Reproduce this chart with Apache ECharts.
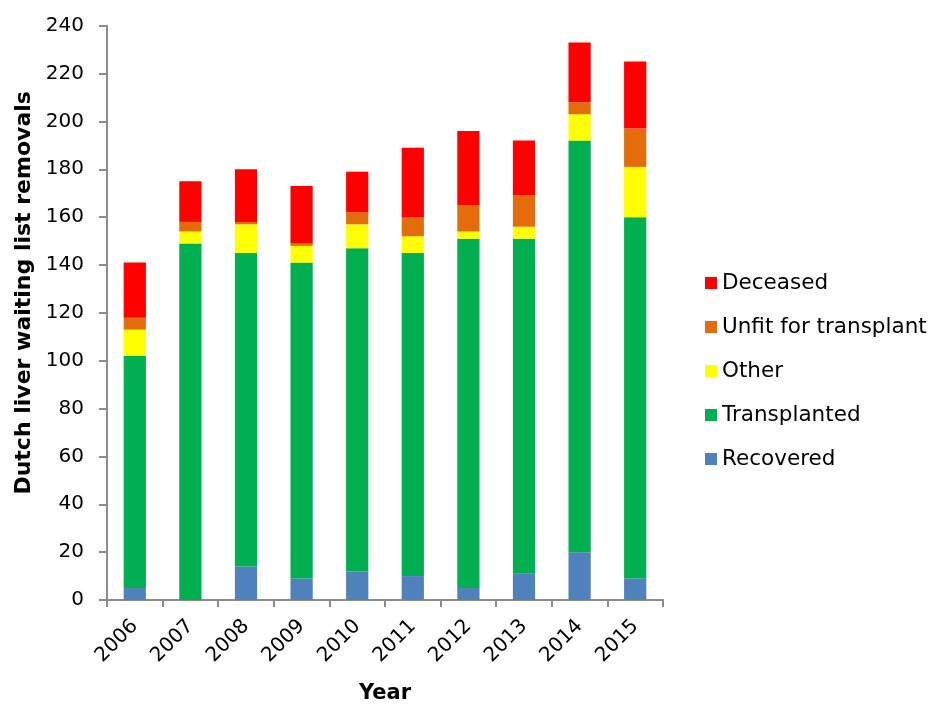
<!DOCTYPE html>
<html>
<head>
<meta charset="utf-8">
<script src="https://cdn.jsdelivr.net/npm/echarts@6/dist/echarts.min.js"></script>
<style>html,body{margin:0;padding:0;background:#fff;}#c{width:934px;height:705px;}</style>
</head>
<body>
<div id="c"></div>
<script>
const years = ['2006','2007','2008','2009','2010','2011','2012','2013','2014','2015'];
const recovered    = [5, 0, 14, 9, 12, 10, 5, 11, 20, 9];
const transplanted = [97, 149, 131, 132, 135, 135, 146, 140, 172, 151];
const other        = [11, 5, 12, 7, 10, 7, 3, 5, 11, 21];
const unfit        = [5, 4, 1, 1, 5, 8, 11, 13, 5, 16];
const deceased     = [23, 17, 22, 24, 17, 29, 31, 23, 25, 28];
const yTicks = [0, 20, 40, 60, 80, 100, 120, 140, 160, 180, 200, 220, 240];

const FONT = 'DejaVu Sans';
const axisColor = '#8c8c8c';
function ser(name, data, color) {
  return { name, type: 'bar', stack: 'total', data, barWidth: '40%',
    itemStyle: { color }, emphasis: { disabled: true } };
}
const chart = echarts.init(document.getElementById('c'));
chart.setOption({
  animation: false,
  textStyle: { fontFamily: FONT },
  grid: { left: 107, right: 271, top: 25.7, bottom: 105, containLabel: false, outerBoundsMode: 'none' },
  legend: {
    orient: 'vertical', left: 700, top: 267,
    itemWidth: 12, itemHeight: 12, itemGap: 22,
    icon: 'rect',
    textStyle: { fontFamily: FONT, fontSize: 21.5, color: '#000' },
    data: ['Deceased', 'Unfit for transplant', 'Other', 'Transplanted', 'Recovered']
  },
  xAxis: {
    type: 'category', data: years,
    name: 'Year', nameLocation: 'middle', nameGap: 83,
    nameTextStyle: { fontFamily: FONT, fontSize: 21, fontWeight: 'bold', color: '#000' },
    axisLine: { lineStyle: { color: axisColor, width: 2 } },
    axisTick: { show: true, length: 7, lineStyle: { color: axisColor, width: 2 } },
    axisLabel: { rotate: 45, fontSize: 20, color: '#000', fontFamily: FONT, margin: 23 }
  },
  yAxis: {
    type: 'value', min: yTicks[0], max: yTicks[yTicks.length - 1], interval: 20,
    name: 'Dutch liver waiting list removals', nameLocation: 'middle', nameGap: 68,
    nameTextStyle: { fontFamily: FONT, fontSize: 22, fontWeight: 'bold', color: '#000', padding: [0, 0, 0, 40] },
    axisLine: { show: true, lineStyle: { color: axisColor, width: 2 } },
    axisTick: { show: true, length: 8, lineStyle: { color: axisColor, width: 2 } },
    axisLabel: { fontSize: 20, color: '#000', fontFamily: FONT, margin: 23 },
    splitLine: { show: false }
  },
  series: [
    ser('Recovered', recovered, '#4F81BD'),
    ser('Transplanted', transplanted, '#00B050'),
    ser('Other', other, '#FFFF00'),
    ser('Unfit for transplant', unfit, '#E46C0A'),
    ser('Deceased', deceased, '#FF0000')
  ]
});
</script>
</body>
</html>
